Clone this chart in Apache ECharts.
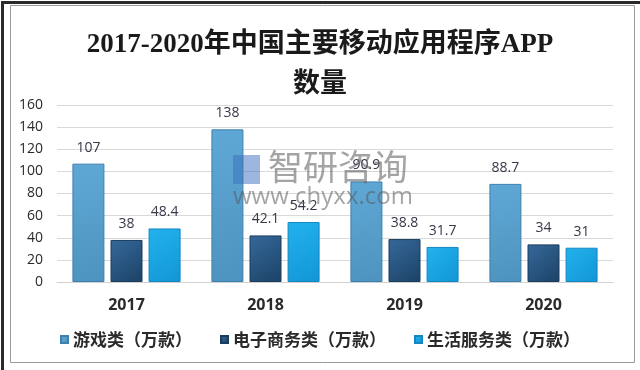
<!DOCTYPE html>
<html><head><meta charset="utf-8">
<script src="https://cdn.jsdelivr.net/npm/echarts@6/dist/echarts.min.js"></script>
<style>html,body{margin:0;padding:0;background:#fff}#c{width:640px;height:370px}</style>
</head><body><div id="c"></div>
<script>
const categories = ['2017', '2018', '2019', '2020'];
const seriesNames = ['游戏类（万款）', '电子商务类（万款）', '生活服务类（万款）'];
const gameValues = [107, 138, 90.9, 88.7];
const ecommerceValues = [38, 42.1, 38.8, 34];
const lifeServiceValues = [48.4, 54.2, 31.7, 31];
const yTicks = [0, 20, 40, 60, 80, 100, 120, 140, 160];

const colors = [
  new echarts.graphic.LinearGradient(0, 0, 1, 1, [{offset: 0, color: '#5FA8D5'}, {offset: 1, color: '#4E93C0'}]),
  new echarts.graphic.LinearGradient(0, 0, 1, 1, [{offset: 0, color: '#35699A'}, {offset: 1, color: '#1C4266'}]),
  new echarts.graphic.LinearGradient(0, 0, 1, 1, [{offset: 0, color: '#22B2EE'}, {offset: 1, color: '#1296D5'}])
];
const borders = ['#3E80AE', '#1B3C5C', '#1587C0'];
const legendColors = ['#5AA4D2', '#2E6495', '#1EAEEB'];
const allValues = [gameValues, ecommerceValues, lifeServiceValues];

const chart = echarts.init(document.getElementById('c'), null, {renderer: 'canvas'});
chart.setOption({
  animation: false,
  backgroundColor: '#fff',
  color: legendColors,
  title: {
    text: '2017-2020年中国主要移动应用程序APP\n数量',
    left: 'center', top: 20,
    textStyle: {fontFamily: "'Liberation Serif', 'Noto Sans CJK SC', serif", fontSize: 27, fontWeight: 'bold', color: '#1a1a1a', lineHeight: 40}
  },
  graphic: [
    {type: 'rect', left: 8, top: 3, shape: {width: 624, height: 357}, style: {fill: 'none', stroke: '#9a9a9a', lineWidth: 1}, silent: true},
    {type: 'rect', left: 0, top: 0, shape: {width: 639, height: 369}, style: {fill: 'none', stroke: '#2a2a2a', lineWidth: 3}, silent: true},
    {type: 'text', left: 268, top: 149, style: {text: '智研咨询', fontSize: 35, fontFamily: "'Noto Sans CJK SC'", fill: 'rgba(90,90,90,0.55)'}, silent: true, z: 20},
    {type: 'text', left: 233, top: 185, style: {text: 'www.chyxx.com', fontSize: 24, fontFamily: "'Open Sans'", fill: 'rgba(90,90,90,0.55)'}, silent: true, z: 20},
    {type: 'rect', left: 233, top: 155, shape: {width: 27, height: 29}, style: {fill: 'rgba(60,110,190,0.5)'}, silent: true, z: 20}
  ],
  legend: {
    data: seriesNames,
    bottom: 17, left: 'center',
    itemWidth: 7, itemHeight: 7, itemGap: 28,
    icon: 'rect',
    textStyle: {fontSize: 17, fontWeight: 'bold', color: '#2a2a2a', fontFamily: "'Noto Sans CJK SC'"}
  },
  grid: {left: 57, right: 27, top: 105, bottom: 88},
  xAxis: {
    type: 'category', data: categories,
    axisLine: {lineStyle: {color: '#d0d0d0'}},
    axisTick: {show: false},
    axisLabel: {fontSize: 16, fontWeight: 'bold', color: '#2a2a2a', margin: 15, fontFamily: "'Open Sans'"}
  },
  yAxis: {
    type: 'value', min: yTicks[0], max: yTicks[yTicks.length - 1], interval: 20,
    axisLine: {show: false}, axisTick: {show: false},
    splitLine: {lineStyle: {color: '#d9d9d9'}},
    axisLabel: {fontSize: 14, color: '#2a2a2a', margin: 14, fontFamily: "'Open Sans'"}
  },
  series: seriesNames.map((name, i) => ({
    name, type: 'bar', data: allValues[i],
    barWidth: 32, barGap: '19%',
    itemStyle: {color: colors[i], borderColor: borders[i], borderWidth: 1},
    label: {show: true, position: 'top', distance: 9, fontSize: 14, color: '#3a3548', fontFamily: "'Open Sans'"}
  }))
});
</script></body></html>
